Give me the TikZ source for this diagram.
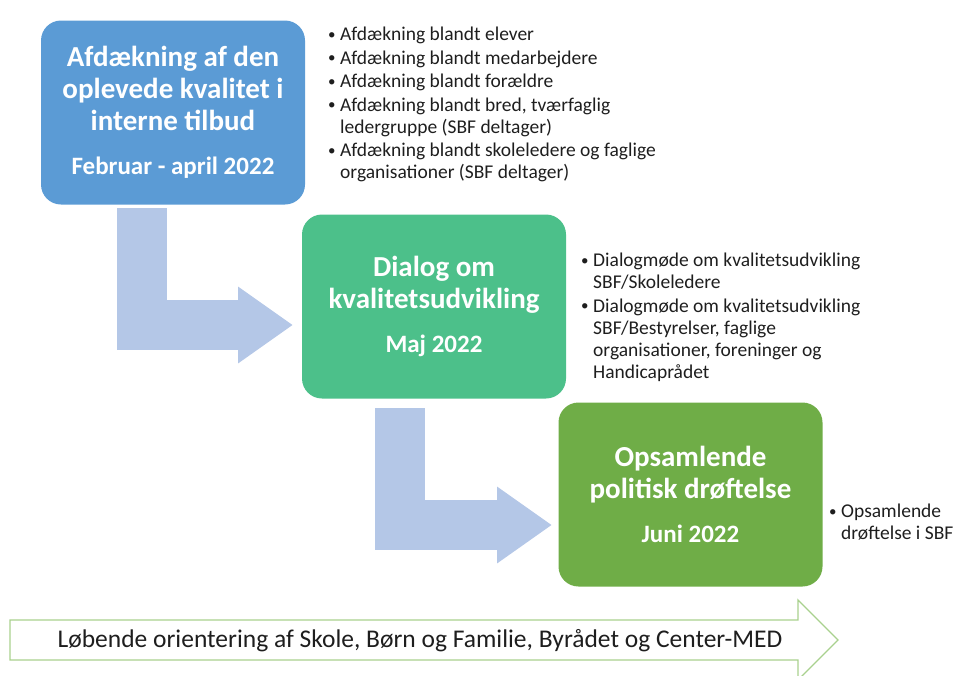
\documentclass[tikz,border=0pt]{standalone}
\usepackage{fontspec}
\setmainfont{Carlito}
\usetikzlibrary{arrows.meta}

\definecolor{afdblue}{HTML}{5B9BD5}
\definecolor{dialoggreen}{HTML}{4CC08A}
\definecolor{opsgreen}{HTML}{6FAD47}
\definecolor{lbluearrow}{HTML}{B4C7E7}
\definecolor{orientline}{HTML}{A9D18E}
\definecolor{bultext}{HTML}{1E1E1E}

\newcommand{\bul}{\makebox[12pt][l]{\raisebox{1.5pt}{\fontsize{15}{15}\selectfont\textbullet}}}
\newcommand{\ind}{\hspace*{12pt}}

\begin{document}
\begin{tikzpicture}[x=1pt,y=-1pt,
    phase/.style={rounded corners=20pt, minimum width=264pt, minimum height=184pt,
      inner sep=0pt, text=white, align=center,
      font=\fontsize{29}{32}\selectfont\bfseries},
    bullets/.style={anchor=north west, inner sep=0pt, align=left, text=bultext,
      font=\fontsize{19.5}{22}\selectfont},
    lblock/.style={draw=lbluearrow, line width=50pt, line join=miter,
      -{Triangle[width=73pt,length=55pt]}}]
    \useasboundingbox (0,0) rectangle (960,675);

    % phase boxes
    \node[phase, fill=afdblue] (afd) at (173,112.5)
      {Afdækning af den\\oplevede kvalitet i\\interne tilbud\\[12pt]
       {\fontsize{25}{28}\selectfont Februar - april 2022}};
    \node[phase, fill=dialoggreen] (dialog) at (434,306.5)
      {Dialog om\\kvalitetsudvikling\\[12pt]
       {\fontsize{25}{28}\selectfont Maj 2022}};
    \node[phase, fill=opsgreen] (opsaml) at (690.5,494.5)
      {Opsamlende\\politisk drøftelse\\[12pt]
       {\fontsize{25}{28}\selectfont Juni 2022}};

    % bullet lists
    \node[bullets] (afdlist) at (328,27)
      {\bul Afdækning blandt elever\\[1.5pt]
       \bul Afdækning blandt medarbejdere\\[1.5pt]
       \bul Afdækning blandt forældre\\[1.5pt]
       \bul Afdækning blandt bred, tværfaglig\\
       \ind ledergruppe (SBF deltager)\\[1.5pt]
       \bul Afdækning blandt skoleledere og faglige\\
       \ind organisationer (SBF deltager)};
    \node[bullets] (dialoglist) at (581,253)
      {\bul Dialogmøde om kvalitetsudvikling\\
       \ind SBF/Skoleledere\\[1.5pt]
       \bul Dialogmøde om kvalitetsudvikling\\
       \ind SBF/Bestyrelser, faglige\\
       \ind organisationer, foreninger og\\
       \ind Handicaprådet};
    \node[bullets] (opslist) at (829,504)
      {\bul Opsamlende\\
       \ind drøftelse i SBF};

    % L-shaped arrows between the phases
    \coordinate (a1s) at (142,208);
    \coordinate (a1e) at (293,325);
    \coordinate (a2s) at (400,408);
    \coordinate (a2e) at (552,525);
    \draw[lblock] (a1s) |- (a1e);
    \draw[lblock] (a2s) |- (a2e);

    % running orientation arrow
    \draw[draw=orientline, fill=white, line width=1.3pt, line join=miter]
      (10,620) -- (798,620) -- (798,600) -- (838,640) -- (798,680)
      -- (798,660) -- (10,660) -- cycle;
    \node[text=bultext, font=\fontsize{25.5}{28}\selectfont] (orient) at (420,641)
      {Løbende orientering af Skole, Børn og Familie, Byrådet og Center-MED};
\end{tikzpicture}
\end{document}
